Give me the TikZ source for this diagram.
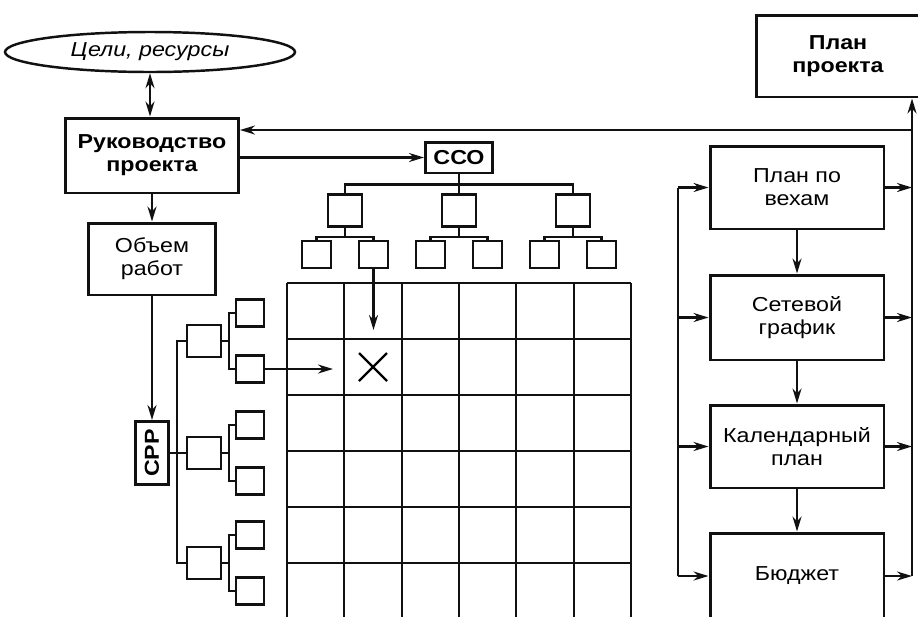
\documentclass[tikz,border=0pt]{standalone}
\usepackage{fontspec}
\setmainfont[FakeStretch=1.15]{Liberation Sans}
\usepackage{tikz}
\usetikzlibrary{arrows.meta,positioning,calc,shapes.geometric}
\definecolor{inkblack}{HTML}{111111}
\tikzset{
  txt/.style={font=\fontsize{11.5}{13}\selectfont},
  comp/.style={draw=inkblack, line width=1.7pt, align=center, inner sep=2pt, txt},
  goal/.style={ellipse, draw=inkblack, line width=1.4pt, inner sep=0pt, minimum width=5.8cm, minimum height=.8cm, font=\fontsize{11.5}{13}\selectfont\itshape},
  leaf/.style={draw=inkblack, line width=1.4pt, minimum width=.68cm, minimum height=.64cm, inner sep=0pt},
  twig/.style={draw=inkblack, line width=1.4pt, minimum width=.57cm, minimum height=.54cm, inner sep=0pt},
  link/.style={draw=inkblack, line width=1.3pt},
  flow/.style={-{Stealth[length=3mm,width=1.8mm]}, line width=1.3pt, draw=inkblack},
  dflow/.style={{Stealth[length=3mm,width=1.8mm]}-{Stealth[length=3mm,width=1.8mm]}, line width=1.3pt, draw=inkblack},
  gridline/.style={draw=inkblack, line width=1.3pt}
}
\begin{document}
\begin{tikzpicture}[x=0.02cm, y=-0.02cm]
  \useasboundingbox (0,0) rectangle (918,616);
  \clip (0,0) rectangle (918,616);
  % left column
  \node[goal] (goals) at (150,52) {Цели, ресурсы};
  \node[comp, minimum width=3.46cm, minimum height=1.5cm, font=\fontsize{11.5}{13}\selectfont\bfseries] (mgmt) at (152,155.5) {Руководство\\проекта};
  \node[comp, minimum width=2.56cm, minimum height=1.44cm] (scope) at (152,259) {Объем\\работ};
  \node[comp, minimum width=.66cm, minimum height=1.26cm, inner sep=0pt, font=\fontsize{11.5}{13}\selectfont\bfseries] (wbs) at (152,453) {\rotatebox{90}{СРР}};
  \draw[dflow] (goals.south) -- (goals.south |- mgmt.north);
  \draw[flow] (mgmt) -- (scope);
  \draw[flow] (scope) -- (wbs);
  % OBS tree
  \node[comp, minimum width=1.34cm, minimum height=.62cm, font=\fontsize{11.5}{13}\selectfont\bfseries] (obs) at (459,157.5) {ССО};
  \draw[flow] (mgmt.east |- obs) -- (obs);
  \foreach \i/\x in {1/345,2/459,3/573} {
    \node[leaf] (o\i) at (\x,210.5) {};
    \node[twig] (o\i-a) at (\x-28.5,254.5) {};
    \node[twig] (o\i-b) at (\x+28.5,254.5) {};
    \draw[link] (o\i-a.north) |- ($(o\i.south)+(0,9)$) -| (o\i-b.north);
    \draw[link] (o\i.south) -- ++(0,9);
  }
  \draw[link] (o1.north) |- ($(obs.south)+(0,10)$) -| (o3.north);
  \draw[link] (obs) -- (o2);
  % WBS tree
  \foreach \i/\y in {1/341,2/453,3/563} {
    \node[leaf] (w\i) at (204,\y) {};
    \node[twig] (w\i-a) at (250,\y-28) {};
    \node[twig] (w\i-b) at (250,\y+28) {};
    \draw[link] (w\i-a.west) -| ($(w\i.east)+(7,0)$) |- (w\i-b.west);
    \draw[link] (w\i.east) -- ++(7,0);
  }
  \draw[link] (w1.west) -- ++(-9,0) |- (w3.west);
  \draw[link] (wbs) -- (w2);
  % matrix
  \foreach \c in {0,...,6}
    \draw[gridline] (287+57.33*\c,283) -- (287+57.33*\c,620);
  \foreach \r in {0,...,5}
    \draw[gridline] (287,283+56*\r) -- (631,283+56*\r);
  \coordinate (colin) at (373.5,330);
  \coordinate (rowin) at (333,369);
  \draw[flow] (o1-b.south) -- (colin);
  \draw[flow] (w1-b.east) -- (rowin);
  \draw[line width=1.3pt] (359,353) -- (387,381) (359,381) -- (387,353);
  % plans
  \node[comp, minimum width=3.28cm, minimum height=1.64cm, font=\fontsize{11.5}{13}\selectfont\bfseries] (plan) at (838,56) {План\\проекта};
  \node[comp, minimum width=3.48cm, minimum height=1.66cm] (milestones) at (797,187.5) {План по\\вехам};
  \node[comp, minimum width=3.48cm, minimum height=1.7cm] (network) at (797,317.5) {Сетевой\\график};
  \node[comp, minimum width=3.48cm, minimum height=1.66cm] (calendar) at (797,446.5) {Календарный\\план};
  \node[comp, minimum width=3.48cm, minimum height=1.72cm] (budget) at (797,576) {Бюджет};
  \coordinate (lbus) at (678,0);
  \coordinate (rbus) at (912,0);
  \coordinate (fb) at (0,130);
  \draw[flow] (milestones) -- (network);
  \draw[flow] (network) -- (calendar);
  \draw[flow] (calendar) -- (budget);
  \draw[link] (milestones.west -| lbus) -- (budget.west -| lbus);
  \foreach \n in {milestones,network,calendar,budget} {
    \draw[flow] (\n.west -| lbus) -- (\n.west);
    \draw[flow] (\n.east) -- (\n.east -| rbus);
  }
  \draw[flow] (budget.east -| rbus) -- (rbus |- plan.south);
  \draw[flow] (rbus |- fb) -- (mgmt.east |- fb);
\end{tikzpicture}
\end{document}
